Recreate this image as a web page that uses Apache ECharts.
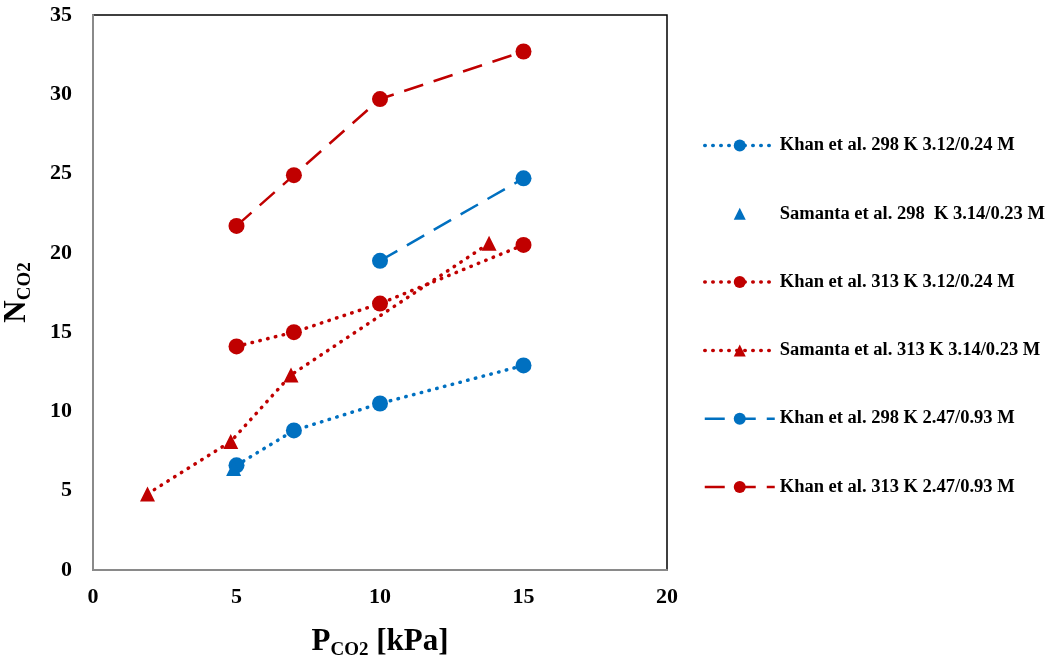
<!DOCTYPE html>
<html>
<head>
<meta charset="UTF-8">
<title>N_CO2 vs P_CO2</title>
<script src="https://cdn.jsdelivr.net/npm/echarts@6/dist/echarts.min.js"></script>
<style>
  html, body { margin: 0; padding: 0; background: #fff; }
  #main { width: 1048px; height: 658px; }
</style>
</head>
<body>
<div id="main"></div>
<script type="text/javascript">
// data: [P_CO2 kPa, N_CO2]
var khan298a = [[5, 6.6], [7, 8.8], [10, 10.5], [15, 12.9]];
var samanta298 = [[4.9, 6.4]];
var khan313a = [[5, 14.1], [7, 15.0], [10, 16.8], [15, 20.5]];
var samanta313 = [[1.9, 4.8], [4.8, 8.1], [6.9, 12.3], [13.8, 20.6]];
var khan298b = [[10, 19.5], [15, 24.7]];
var khan313b = [[5, 21.7], [7, 24.9], [10, 29.7], [15, 32.7]];

var names = [
  'Khan et al. 298 K 3.12/0.24 M',
  'Samanta et al. 298  K 3.14/0.23 M',
  'Khan et al. 313 K 3.12/0.24 M',
  'Samanta et al. 313 K 3.14/0.23 M',
  'Khan et al. 298 K 2.47/0.93 M',
  'Khan et al. 313 K 2.47/0.93 M'
];

var blue = '#0070C0';
var red = '#C00000';
var dotted = { width: 3.5, type: [0.5, 7.5], cap: 'round' };
var dashed = { width: 2.5, type: [20, 11] };

var dom = document.getElementById('main');
var myChart = echarts.init(dom);

var font = '"Liberation Serif", "Times New Roman", serif';

function mk(name, data, color, symbol, line) {
  return {
    name: name,
    type: 'line',
    data: data,
    symbol: symbol,
    symbolSize: symbol == 'triangle' ? 15 : 16,
    itemStyle: { color: color },
    lineStyle: line ? Object.assign({ color: color }, line) : { opacity: 0, width: 0 },
    emphasis: { disabled: true },
    z: 3
  };
}

var legendData = [
  { name: names[0], lineStyle: { width: 3.5, type: [0.5, 7.5], cap: 'round' } },
  { name: names[1] },
  { name: names[2], lineStyle: { width: 3.5, type: [0.5, 7.5], cap: 'round' } },
  { name: names[3], lineStyle: { width: 3.5, type: [0.5, 7.5], cap: 'round' } },
  { name: names[4], lineStyle: { width: 2.5, type: [20, 11] } },
  { name: names[5], lineStyle: { width: 2.5, type: [20, 11] } }
];

var axisName = {
  a: { fontSize: 31, fontWeight: 'bold', fontFamily: font, color: '#000', lineHeight: 40 },
  b: { fontSize: 19, fontWeight: 'bold', fontFamily: font, color: '#000', padding: [16, 0, 0, 0], lineHeight: 40 }
};

option = {
  animation: false,
  textStyle: { fontFamily: font },
  grid: {
    left: 93, top: 15, width: 574, height: 555,
    outerBoundsMode: 'none',
    containLabel: false,
    show: true, borderColor: '#000', borderWidth: 1.5
  },
  legend: {
    orient: 'vertical',
    left: 698,
    top: 131,
    itemWidth: 70,
    itemHeight: 15,
    itemGap: 49.3,
    data: legendData,
    textStyle: { fontFamily: font, fontWeight: 'bold', fontSize: 18.5, color: '#000' }
  },
  xAxis: {
    type: 'value',
    min: 0, max: 20, interval: 5,
    splitLine: { show: false },
    axisTick: { show: false },
    axisLine: { lineStyle: { color: '#8a8a8a', width: 2 } },
    axisLabel: { color: '#000', fontWeight: 'bold', fontSize: 22, fontFamily: font, margin: 16 },
    name: '{a|P}{b|CO2}{a| [kPa]}',
    nameLocation: 'middle',
    nameGap: 52,
    nameTextStyle: { rich: axisName }
  },
  yAxis: {
    type: 'value',
    min: 0, max: 35, interval: 5,
    splitLine: { show: false },
    axisTick: { show: false },
    axisLine: { lineStyle: { color: '#8a8a8a', width: 2 } },
    axisLabel: { color: '#000', fontWeight: 'bold', fontSize: 22, fontFamily: font, margin: 21 },
    name: '{a|N}{b|CO2}',
    nameLocation: 'middle',
    nameRotate: 90,
    nameGap: 56,
    nameTextStyle: { rich: axisName }
  },
  series: [
    mk(names[0], khan298a, blue, 'circle', dotted),
    mk(names[1], samanta298, blue, 'triangle', null),
    mk(names[2], khan313a, red, 'circle', dotted),
    mk(names[3], samanta313, red, 'triangle', dotted),
    mk(names[4], khan298b, blue, 'circle', dashed),
    mk(names[5], khan313b, red, 'circle', dashed)
  ]
};

if (option && typeof option === "object") {
  myChart.setOption(option, true);
}
</script>
</body>
</html>
